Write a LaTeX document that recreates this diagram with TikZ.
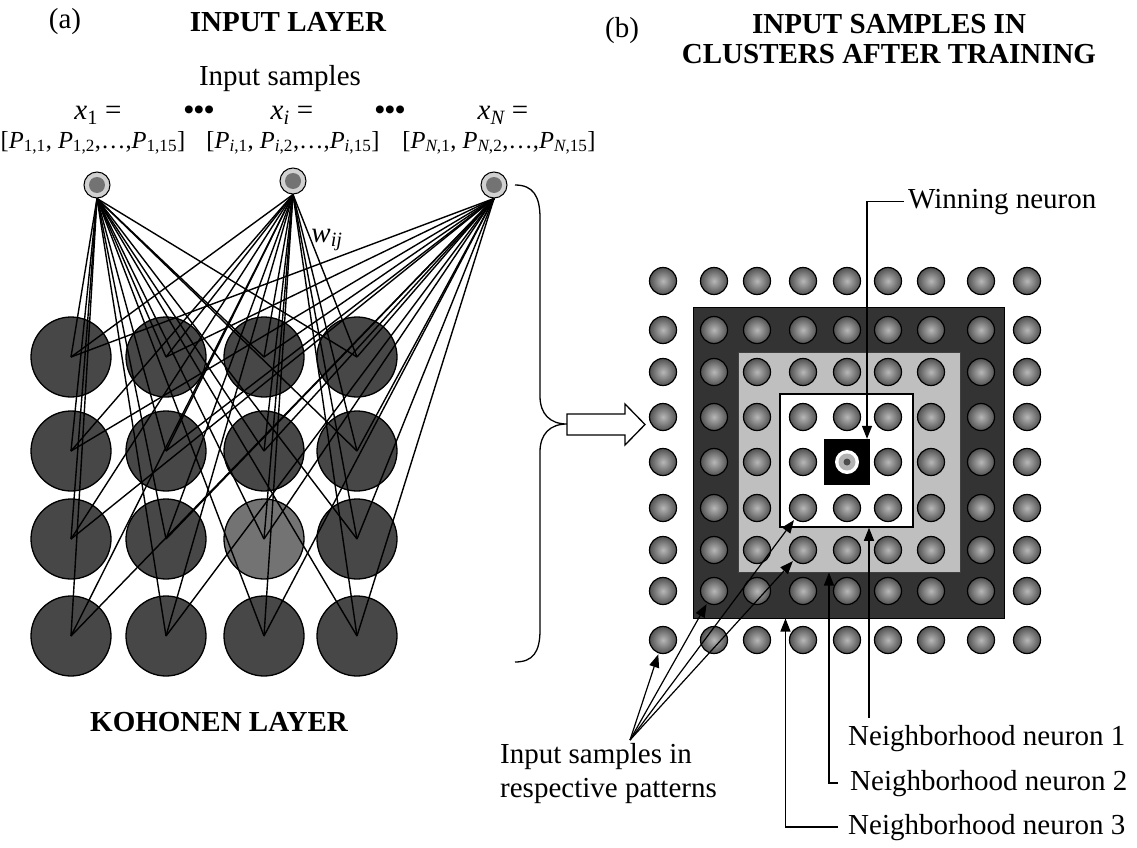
\documentclass[tikz,border=0pt]{standalone}
\usepackage{fontspec}
\setmainfont{Liberation Serif}
\usetikzlibrary{arrows.meta}

\newcommand{\Pcomp}[1]{\textit{P}\textsubscript{#1}}

\tikzset{
  lbl/.style={inner sep=0pt, font=\fontsize{29}{34}\selectfont},
  ttl/.style={inner sep=0pt, align=center, font=\fontsize{29}{30}\selectfont\bfseries},
  vec/.style={inner sep=0pt, font=\fontsize{24.5}{30}\selectfont},
  kcell/.style={circle, draw, line width=1.3pt, minimum size=80pt, inner sep=0pt},
  incell/.style={circle, draw, line width=1pt, fill=black!18, minimum size=26pt, inner sep=0pt,
    path picture={\fill[black!55] (path picture bounding box.center) circle (8pt);}},
  gcell/.style={circle, draw, line width=1.2pt, inner color=black!28, outer color=black!68,
    minimum size=27pt, inner sep=0pt},
  wincell/.style={fill=black, minimum size=46pt, inner sep=0pt,
    path picture={\fill[white] (path picture bounding box.center) circle (12pt);
      \fill[black!30] (path picture bounding box.center) circle (8.5pt);
      \fill[black!70] (path picture bounding box.center) circle (3.5pt);}},
  ring/.style={draw, inner sep=0pt},
  wire/.style={line width=1.4pt},
  ptr/.style={line width=1.2pt, -{Triangle[length=13pt,width=10pt]}},
}

\begin{document}
\begin{tikzpicture}[x=1pt, y=-1pt]
\useasboundingbox (0,0) rectangle (1137,848);

% (a) input layer
\node[lbl, anchor=base] (taga) at (65,29) {(a)};
\node[ttl, anchor=base] (tin) at (288,32) {INPUT LAYER};
\node[lbl, anchor=base] (tsamp) at (280,86) {Input samples};
\node[lbl, anchor=base] (x1) at (98,120) {\textit{x}\textsubscript{1} =};
\node[lbl, anchor=base] (dotsa) at (199,120) {\textbf{\textbullet\textbullet\textbullet}};
\node[lbl, anchor=base] (xi) at (292,120) {\textit{x\textsubscript{i}} =};
\node[lbl, anchor=base] (dotsb) at (390,120) {\textbf{\textbullet\textbullet\textbullet}};
\node[lbl, anchor=base] (xN) at (503,120) {\textit{x\textsubscript{N}} =};
\node[vec, anchor=base] (p1) at (93,148) {[\Pcomp{1,1}, \Pcomp{1,2},\ldots,\Pcomp{1,15}]};
\node[vec, anchor=base] (pi) at (293,148) {[\Pcomp{\textit{i},1}, \Pcomp{\textit{i},2},\ldots,\Pcomp{\textit{i},15}]};
\node[vec, anchor=base] (pN) at (499,148) {[\Pcomp{\textit{N},1}, \Pcomp{\textit{N},2},\ldots,\Pcomp{\textit{N},15}]};

\node[incell] (in1) at (97,185) {};
\node[incell] (in2) at (293,181) {};
\node[incell] (in3) at (494,185) {};

% kohonen layer
\foreach \r/\y in {1/357, 2/451, 3/539, 4/636} {
  \foreach \c/\x in {1/71, 2/166, 3/264, 4/357} {
    \pgfmathtruncatemacro\kgray{(\r==3 && \c==3) ? 55 : 72}
    \node[kcell, fill=black!\kgray] (k\r\c) at (\x,\y) {};
  }
}
\foreach \i in {1,2,3} {
  \foreach \r in {1,...,4} {
    \foreach \c in {1,...,4} {
      \draw[wire] (in\i.south) -- (k\r\c.center);
    }
  }
}
\node[lbl, anchor=base] (wij) at (327,242) {\textit{w\textsubscript{ij}}};
\node[ttl, anchor=base] (tkoh) at (219,731) {KOHONEN LAYER};

% brace and arrow
\draw[line width=1.3pt] (515,185) .. controls (533,185) and (540,196) .. (540,218) -- (540,396)
  .. controls (540,414) and (550,424) .. (567,424)
  .. controls (550,424) and (540,434) .. (540,452) -- (540,630)
  .. controls (540,652) and (533,662) .. (515,662);
\draw[line width=1.3pt, fill=white] (567,414) -- (625,414) -- (625,404) -- (645,424.5)
  -- (625,445) -- (625,435) -- (567,435) -- cycle;

% (b) clusters
\node[lbl, anchor=base] (tagb) at (622,38) {(b)};
\node[ttl, anchor=north] (tclu) at (889,14) {INPUT SAMPLES IN\\CLUSTERS AFTER TRAINING};

\node[ring, line width=1pt, fill=black!80, minimum size=311pt] (ring3) at (848.5,462.5) {};
\node[ring, line width=1pt, draw=black!75, fill=black!25, minimum width=222pt, minimum height=220pt] (ring2) at (849,462) {};
\node[ring, line width=1.5pt, fill=white, minimum size=133pt] (ring1) at (846.5,460.5) {};

\foreach \r/\y in {0/281, 1/330, 2/372, 3/417, 4/462, 5/508, 6/550, 7/591, 8/640} {
  \foreach \c/\x in {0/663, 1/714, 2/757, 3/803, 4/847, 5/888, 6/931, 7/981, 8/1027} {
    \pgfmathtruncatemacro\iswin{(\r==4 && \c==4) ? 1 : 0}
    \ifnum\iswin=0
      \node[gcell] (g\r\c) at (\x,\y) {};
    \fi
  }
}
\node[wincell] (win) at (847,462) {};

% labels
\node[lbl, anchor=base west] (lwin) at (908,208) {Winning neuron};
\draw[ptr] ([xshift=-4pt]lwin.west) -| ([xshift=20pt]win.north);

\node[lbl, anchor=base west] (lnn1) at (848,745) {Neighborhood neuron 1};
\node[lbl, anchor=base west] (lnn2) at (850,790) {Neighborhood neuron 2};
\node[lbl, anchor=base west] (lnn3) at (848,834) {Neighborhood neuron 3};
\coordinate (n1) at ([shift={(21pt,7pt)}]lnn1.north west);
\draw[ptr] (n1) -- (n1 |- ring1.south);
\draw[ptr] ([xshift=-12pt]lnn2.west) -| ([xshift=-20pt]ring2.south);
\draw[ptr] ([xshift=-10pt]lnn3.west) -| ([xshift=-63pt]ring3.south);

\node[lbl, anchor=north west, align=left] (lsamp) at (500,743) {Input samples in\\respective patterns};
\coordinate (src) at (630,740);
\foreach \t in {80, 71, 53, 63} {
  \draw[ptr, shorten >=1pt] (src) -- (g\t);
}
\end{tikzpicture}
\end{document}
